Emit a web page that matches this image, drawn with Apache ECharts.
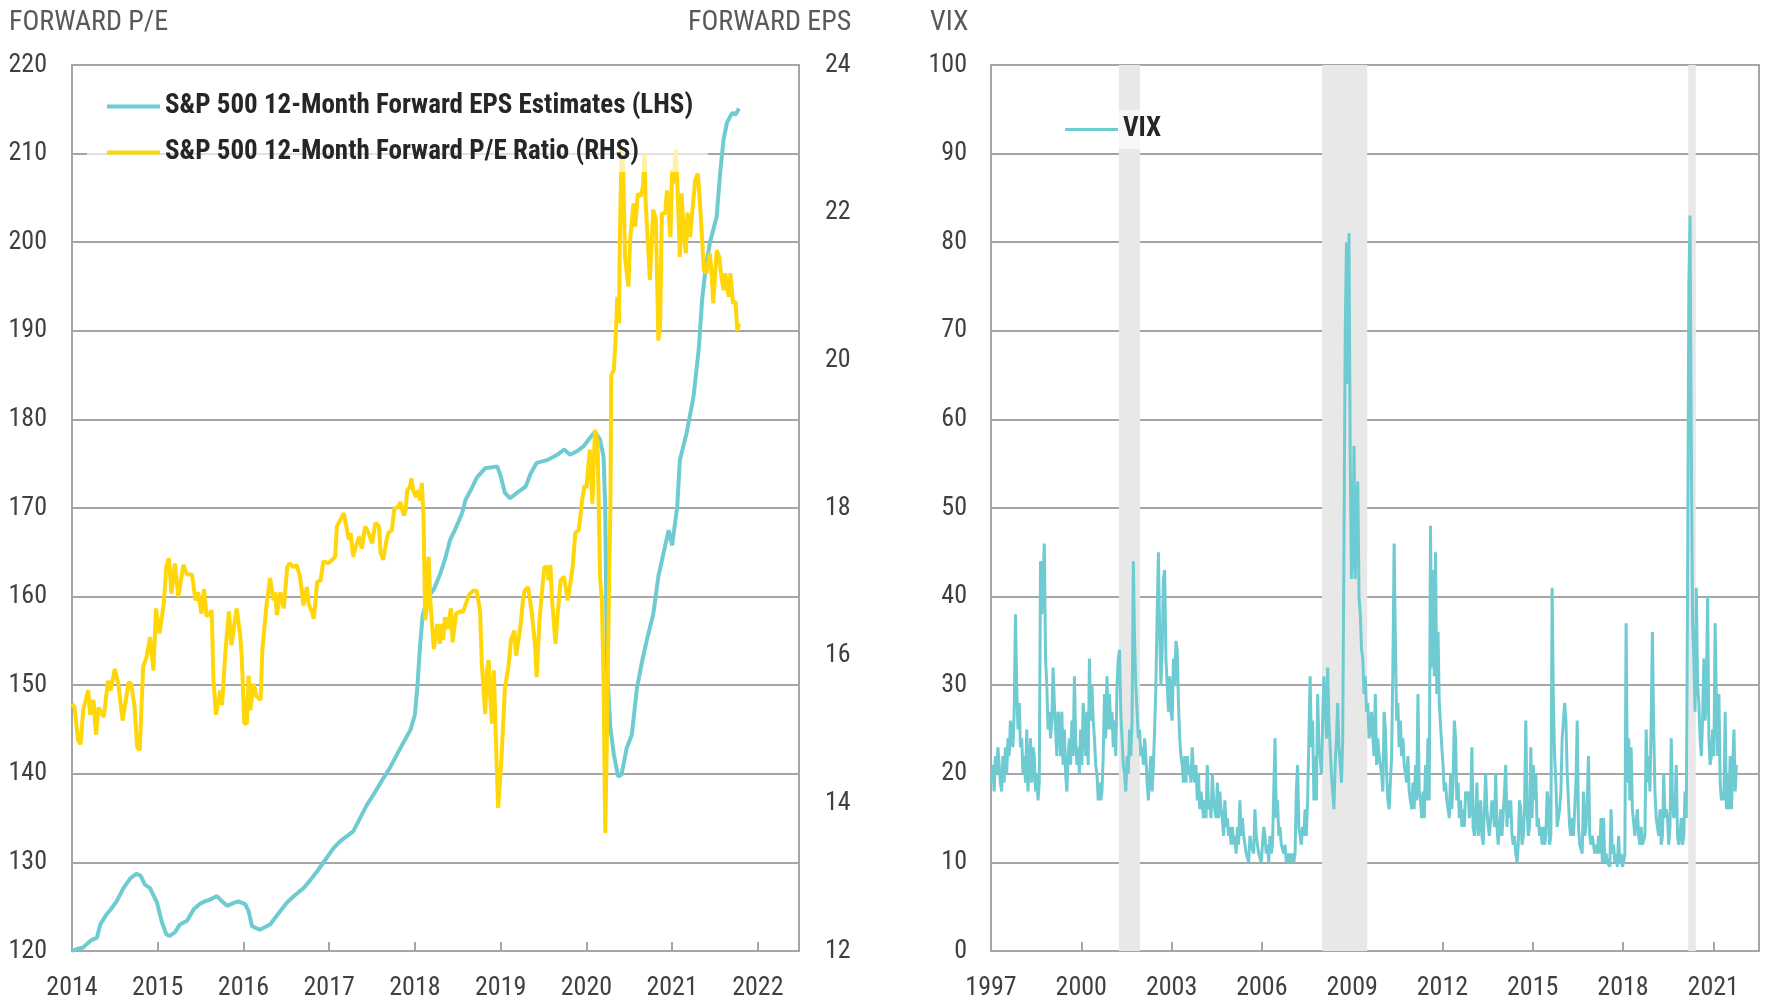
<!DOCTYPE html>
<html>
<head>
<meta charset="utf-8">
<title>Forward EPS, Forward P/E and VIX</title>
<script src="https://cdn.jsdelivr.net/npm/echarts@6/dist/echarts.min.js"></script>
<style>
html, body { margin: 0; padding: 0; background: #fff; }
#main { width: 1766px; height: 1001px; }
</style>
</head>
<body>
<div id="main"></div>
<script>
// series names
var epsName = 'S&P 500 12-Month Forward EPS Estimates (LHS)';
var peName = 'S&P 500 12-Month Forward P/E Ratio (RHS)';

// forward EPS, [year, value] (left axis)
var epsData = [[2014.00,120],[2014.05,120.2],[2014.13,120.4],[2014.22,121.2],[2014.29,121.5],[2014.33,123],[2014.40,124.1],[2014.46,124.8],[2014.52,125.6],[2014.60,127.1],[2014.68,128.2],[2014.75,128.7],[2014.80,128.5],[2014.85,127.5],[2014.91,127.1],[2014.99,125.5],[2015.05,123.2],[2015.10,121.9],[2015.14,121.7],[2015.20,122.1],[2015.26,123],[2015.34,123.4],[2015.42,124.7],[2015.49,125.3],[2015.55,125.6],[2015.61,125.8],[2015.69,126.2],[2015.75,125.6],[2015.81,125.1],[2015.88,125.4],[2015.94,125.6],[2016.02,125.3],[2016.06,124.5],[2016.10,122.8],[2016.19,122.4],[2016.31,123],[2016.39,124],[2016.51,125.5],[2016.60,126.3],[2016.70,127.1],[2016.78,128],[2016.86,129],[2016.97,130.5],[2017.05,131.6],[2017.13,132.4],[2017.28,133.5],[2017.36,135],[2017.44,136.5],[2017.52,137.7],[2017.60,139],[2017.71,140.7],[2017.83,142.9],[2017.95,145],[2018.00,146.7],[2018.03,150],[2018.06,154.5],[2018.09,157.8],[2018.14,159.8],[2018.22,160.8],[2018.30,162.7],[2018.35,164.2],[2018.41,166.4],[2018.47,167.6],[2018.55,169.4],[2018.59,170.9],[2018.65,172],[2018.72,173.4],[2018.82,174.5],[2018.90,174.6],[2018.96,174.7],[2019.00,173.6],[2019.05,171.7],[2019.11,171.1],[2019.19,171.7],[2019.29,172.4],[2019.35,173.9],[2019.42,175.1],[2019.54,175.4],[2019.66,176],[2019.74,176.6],[2019.81,176],[2019.89,176.4],[2019.97,177],[2020.04,177.9],[2020.10,178.6],[2020.16,177.7],[2020.20,175.8],[2020.22,170.2],[2020.24,152],[2020.28,145.2],[2020.32,142.2],[2020.37,139.7],[2020.41,139.9],[2020.47,142.9],[2020.53,144.4],[2020.59,149.7],[2020.65,152.7],[2020.71,155.3],[2020.78,158],[2020.84,162.3],[2020.90,164.9],[2020.96,167.5],[2021.00,165.8],[2021.06,170.2],[2021.09,175.4],[2021.17,178.5],[2021.25,182.6],[2021.31,187.9],[2021.35,193.5],[2021.39,197],[2021.44,199.9],[2021.52,202.9],[2021.56,207.8],[2021.60,211.6],[2021.64,213.5],[2021.70,214.6],[2021.74,214.4],[2021.78,215.1]];

// forward P/E, [year, value] (right axis)
var peData = [[2014.00,15.35],[2014.03,15.3],[2014.07,14.86],[2014.10,14.8],[2014.13,15.26],[2014.19,15.53],[2014.21,15.2],[2014.25,15.4],[2014.28,14.93],[2014.31,15.3],[2014.37,15.17],[2014.42,15.66],[2014.45,15.53],[2014.50,15.82],[2014.54,15.62],[2014.59,15.12],[2014.66,15.64],[2014.69,15.62],[2014.73,15.3],[2014.76,14.76],[2014.79,14.72],[2014.83,15.85],[2014.87,15.98],[2014.91,16.25],[2014.95,15.8],[2014.98,16.64],[2015.02,16.3],[2015.07,16.7],[2015.10,17.2],[2015.13,17.32],[2015.16,16.84],[2015.20,17.25],[2015.24,16.8],[2015.30,17.23],[2015.34,17.1],[2015.40,17.1],[2015.44,16.75],[2015.47,16.86],[2015.51,16.57],[2015.54,16.9],[2015.57,16.53],[2015.63,16.61],[2015.65,15.67],[2015.68,15.2],[2015.73,15.53],[2015.75,15.33],[2015.79,16.07],[2015.83,16.6],[2015.86,16.14],[2015.92,16.64],[2015.96,16.3],[2015.98,15.98],[2016.01,15.08],[2016.04,15.08],[2016.06,15.73],[2016.08,15.26],[2016.12,15.62],[2016.15,15.45],[2016.20,15.4],[2016.22,16.07],[2016.27,16.7],[2016.31,17.05],[2016.35,16.75],[2016.37,16.86],[2016.39,16.55],[2016.43,16.86],[2016.47,16.64],[2016.51,17.2],[2016.54,17.25],[2016.58,17.2],[2016.62,17.23],[2016.66,17.07],[2016.70,16.68],[2016.74,16.93],[2016.76,16.7],[2016.80,16.59],[2016.82,16.5],[2016.86,17.0],[2016.90,17.02],[2016.93,17.27],[2016.96,17.27],[2016.99,17.25],[2017.01,17.27],[2017.07,17.34],[2017.09,17.75],[2017.13,17.84],[2017.17,17.93],[2017.23,17.57],[2017.25,17.66],[2017.28,17.34],[2017.31,17.48],[2017.35,17.61],[2017.38,17.45],[2017.42,17.75],[2017.46,17.66],[2017.50,17.52],[2017.54,17.8],[2017.58,17.75],[2017.60,17.39],[2017.63,17.3],[2017.67,17.57],[2017.69,17.66],[2017.73,17.7],[2017.76,17.99],[2017.81,18.02],[2017.83,18.08],[2017.87,17.9],[2017.89,17.96],[2017.91,18.24],[2017.94,18.28],[2017.96,18.4],[2017.98,18.24],[2018.01,18.15],[2018.04,18.24],[2018.06,18.1],[2018.08,18.34],[2018.10,17.9],[2018.12,16.48],[2018.14,16.66],[2018.16,17.34],[2018.18,16.75],[2018.22,16.09],[2018.26,16.43],[2018.29,16.16],[2018.31,16.43],[2018.33,16.21],[2018.35,16.52],[2018.38,16.36],[2018.42,16.64],[2018.44,16.18],[2018.48,16.57],[2018.53,16.6],[2018.56,16.59],[2018.62,16.79],[2018.64,16.84],[2018.68,16.88],[2018.72,16.88],[2018.76,16.61],[2018.78,15.89],[2018.82,15.21],[2018.84,15.8],[2018.86,15.94],[2018.88,15.4],[2018.90,15.08],[2018.92,15.8],[2018.94,15.03],[2018.97,13.94],[2018.99,14.26],[2019.01,14.62],[2019.05,15.57],[2019.09,15.84],[2019.12,16.21],[2019.16,16.34],[2019.18,16.0],[2019.23,16.39],[2019.26,16.75],[2019.28,16.88],[2019.32,16.93],[2019.36,16.61],[2019.40,16.16],[2019.42,15.71],[2019.45,16.43],[2019.48,16.84],[2019.51,17.2],[2019.54,17.2],[2019.56,17.02],[2019.58,17.23],[2019.60,16.75],[2019.64,16.16],[2019.66,16.5],[2019.70,17.02],[2019.74,17.07],[2019.78,16.75],[2019.80,16.88],[2019.84,17.2],[2019.87,17.66],[2019.91,17.7],[2019.93,17.88],[2019.95,18.11],[2019.98,18.31],[2020.00,18.27],[2020.04,18.79],[2020.07,18.06],[2020.10,19.06],[2020.13,18.9],[2020.16,17.05],[2020.18,16.75],[2020.20,15.71],[2020.22,13.6],[2020.24,14.94],[2020.26,16.61],[2020.28,18.0],[2020.29,19.8],[2020.32,19.87],[2020.34,20.27],[2020.36,20.86],[2020.38,20.5],[2020.39,21.63],[2020.41,22.85],[2020.43,22.6],[2020.45,21.4],[2020.49,21.0],[2020.51,21.63],[2020.55,22.13],[2020.57,21.81],[2020.60,22.26],[2020.63,22.22],[2020.66,22.35],[2020.68,22.8],[2020.69,22.17],[2020.72,21.54],[2020.74,21.09],[2020.78,22.04],[2020.81,21.9],[2020.84,20.27],[2020.86,20.45],[2020.88,21.99],[2020.92,21.99],[2020.94,22.3],[2020.98,21.67],[2021.00,22.58],[2021.02,22.4],[2021.04,22.85],[2021.06,22.44],[2021.09,21.4],[2021.11,22.26],[2021.14,21.63],[2021.16,21.45],[2021.18,22.0],[2021.21,21.67],[2021.24,22.08],[2021.27,22.44],[2021.30,22.53],[2021.32,22.22],[2021.35,21.63],[2021.37,21.22],[2021.40,21.18],[2021.44,21.45],[2021.46,21.2],[2021.48,20.77],[2021.52,21.49],[2021.55,21.4],[2021.57,21.18],[2021.60,20.95],[2021.62,21.18],[2021.66,20.86],[2021.68,21.18],[2021.71,20.77],[2021.74,20.8],[2021.76,20.4],[2021.78,20.5]];

// VIX, two readings per month (first / second half), one list per year
var vix1997 = [19,21,18,22,20,23,21,19,18,22,19,23,20,24,22,26,24,23,27,38,30,25,28,23];
var vix1998 = [24,20,22,19,25,18,21,24,19,23,22,18,20,17,19,44,38,42,46,33,30,25,27,24];
var vix1999 = [26,32,28,25,22,27,26,22,27,21,25,20,18,22,24,21,26,22,31,24,21,23,20,25];
var vix2000 = [21,28,25,22,27,21,33,26,30,26,24,21,20,17,19,17,18,22,29,24,31,25,29,25];
var vix2001 = [27,23,26,22,30,33,34,27,24,21,20,18,22,20,25,22,26,44,35,30,27,24,25,22];
var vix2002 = [23,21,24,22,19,17,20,22,18,21,25,30,38,45,36,30,34,42,43,33,30,27,31,27];
var vix2003 = [26,33,30,35,34,28,24,22,21,19,22,19,22,20,21,19,23,20,19,21,17,20,16,18];
var vix2004 = [18,15,17,15,21,16,17,15,20,17,16,15,19,15,18,16,15,13,17,14,15,13,14,12];
var vix2005 = [14,12,13,11,14,12,17,13,15,13,12,11,11,10,13,12,12,11,16,13,12,11,11,10];
var vix2006 = [12,14,13,11,12,10,13,11,12,18,24,15,17,13,14,12,12,11,12,10,11,10,11,10];
var vix2007 = [11,10,11,18,21,14,13,12,14,13,16,13,17,24,31,23,26,17,22,17,29,23,22,20];
var vix2008 = [26,31,28,24,32,26,23,20,18,16,21,24,28,23,21,19,24,46,70,80,64,81,55,42];
var vix2009 = [45,57,42,49,53,40,38,34,33,29,31,27,28,24,25,27,24,22,29,21,24,22,21,20];
var vix2010 = [18,27,25,20,17,16,16,22,32,46,35,26,28,23,26,22,24,21,20,19,22,18,18,16];
var vix2011 = [19,16,21,17,29,18,17,15,18,15,21,17,24,17,48,32,43,31,45,29,36,28,28,23];
var vix2012 = [21,18,19,17,16,15,20,16,19,26,24,17,19,15,17,14,16,14,18,17,18,15,16,23];
var vix2013 = [14,13,15,19,13,14,17,13,12,16,20,16,14,13,15,17,16,14,20,14,12,14,16,13];
var vix2014 = [13,18,21,14,17,15,17,13,12,13,11,10,12,17,16,12,13,16,26,16,13,14,23,15];
var vix2015 = [21,17,20,14,15,13,14,12,14,12,13,18,17,12,13,41,28,22,19,14,15,16,18,24];
var vix2016 = [24,28,26,20,17,14,13,15,13,16,19,26,14,12,12,11,18,13,14,17,22,13,12,13];
var vix2017 = [12,11,12,11,13,11,15,10,15,10,11,10,10,9.5,16,11,12,10,11,9.5,13,10,11,9.5];
var vix2018 = [10,11,37,19,24,17,23,16,16,13,13,16,13,12,14,12,12,13,25,19,22,18,26,36];
var vix2019 = [25,18,15,14,13,16,12,13,20,15,16,15,12,14,24,17,15,16,21,13,12,13,15,12];
var vix2020 = [13,18,15,40,75,83,57,37,33,27,41,30,28,24,22,26,33,26,29,40,24,21,22,25];
var vix2021 = [22,37,28,22,29,19,17,18,17,27,16,20,16,22,16,21,25,18,21];
var vixByYear = [vix1997, vix1998, vix1999, vix2000, vix2001, vix2002, vix2003, vix2004, vix2005,
    vix2006, vix2007, vix2008, vix2009, vix2010, vix2011, vix2012, vix2013, vix2014, vix2015,
    vix2016, vix2017, vix2018, vix2019, vix2020, vix2021];
var vixFirstYear = 1997;

// recession bands (years)
var recessionStart = [2001.25, 2008.0, 2020.17];
var recessionEnd = [2001.95, 2009.5, 2020.42];

window.onload = function(){
    var myChart = echarts.init(document.getElementById('main'));
    var FONT = '"Liberation Sans Narrow", "Roboto Condensed", "DejaVu Sans Condensed", sans-serif';
    var gridColor = '#a6a6a6';
    var labelColor = '#404040';
    var teal = '#6ecbd2';
    var yellow = '#ffd60a';

    // VIX points at the middle of each half month
    var vixData = [];
    for (var k = 0; k < vixByYear.length; k++) {
        var list = vixByYear[k];
        for (var i = 0; i < list.length; i++) {
            vixData.push([vixFirstYear + k + (i + 0.5) / 24, list[i]]);
        }
    }
    var recessionAreas = [];
    for (var r = 0; r < recessionStart.length; r++) {
        recessionAreas.push([{xAxis: recessionStart[r]}, {xAxis: recessionEnd[r]}]);
    }

    var yearLabel = function(v){ return Math.round(v); };
    var tickLabel = {fontFamily: FONT, fontSize: 26, color: labelColor};
    var titleStyle = {fontFamily: FONT, fontSize: 28, fontWeight: 'normal', color: '#595959'};
    var legendText = {fontFamily: FONT, fontSize: 27, fontWeight: 'bold', color: '#262626'};

    var option = {
        animation: false,
        backgroundColor: '#fff',
        textStyle: {fontFamily: FONT},
        title: [
            {text: 'FORWARD P/E', left: 9, top: 9, padding: 0, textStyle: titleStyle},
            {text: 'FORWARD EPS', left: 688, top: 9, padding: 0, textStyle: titleStyle},
            {text: 'VIX', left: 930, top: 9, padding: 0, textStyle: titleStyle}
        ],
        legend: [
            {
                data: [epsName, peName],
                orient: 'vertical',
                left: 87, top: 85,
                itemWidth: 53, itemHeight: 4, itemGap: 19,
                padding: [8, 15, 6, 20],
                icon: 'rect',
                selectedMode: false,
                backgroundColor: 'rgba(255,255,255,0.65)',
                textStyle: legendText
            },
            {
                data: ['VIX'],
                left: 1045, top: 110,
                itemWidth: 53, itemHeight: 3,
                padding: [6, 20, 6, 20],
                icon: 'rect',
                selectedMode: false,
                backgroundColor: 'rgba(255,255,255,0.65)',
                textStyle: legendText
            }
        ],
        grid: [
            {left: 72, top: 65, width: 727, height: 886, show: true, borderColor: gridColor, borderWidth: 2},
            {left: 991, top: 65, width: 768, height: 886, show: true, borderColor: gridColor, borderWidth: 2}
        ],
        xAxis: [
            {
                type: 'value', gridIndex: 0, min: 2014, max: 2022.48, interval: 1,
                axisLine: {show: true, lineStyle: {color: gridColor, width: 2}},
                axisTick: {show: true, inside: true, length: 9, lineStyle: {color: gridColor, width: 2}},
                axisLabel: Object.assign({margin: 24, showMaxLabel: false, formatter: yearLabel}, tickLabel),
                splitLine: {show: false}
            },
            {
                type: 'value', gridIndex: 1, min: 1997, max: 2022.52, interval: 3,
                axisLine: {show: true, lineStyle: {color: gridColor, width: 2}},
                axisTick: {show: true, inside: true, length: 9, lineStyle: {color: gridColor, width: 2}},
                axisLabel: Object.assign({margin: 24, showMaxLabel: false, formatter: yearLabel}, tickLabel),
                splitLine: {show: false}
            }
        ],
        yAxis: [
            {
                type: 'value', gridIndex: 0, min: 120, max: 220, interval: 10,
                axisLine: {show: false}, axisTick: {show: false},
                axisLabel: Object.assign({margin: 25}, tickLabel),
                splitLine: {lineStyle: {color: gridColor, width: 2}}
            },
            {
                type: 'value', gridIndex: 0, position: 'right', min: 12, max: 24, interval: 2,
                axisLine: {show: false}, axisTick: {show: false},
                axisLabel: Object.assign({margin: 26}, tickLabel),
                splitLine: {show: false}
            },
            {
                type: 'value', gridIndex: 1, min: 0, max: 100, interval: 10,
                axisLine: {show: false}, axisTick: {show: false},
                axisLabel: Object.assign({margin: 24}, tickLabel),
                splitLine: {lineStyle: {color: gridColor, width: 2}}
            }
        ],
        series: [
            {
                name: epsName, type: 'line', xAxisIndex: 0, yAxisIndex: 0,
                data: epsData, symbol: 'none',
                lineStyle: {color: teal, width: 4}, itemStyle: {color: teal}
            },
            {
                name: peName, type: 'line', xAxisIndex: 0, yAxisIndex: 1,
                data: peData, symbol: 'none',
                lineStyle: {color: yellow, width: 4}, itemStyle: {color: yellow}
            },
            {
                // recession shading, kept under the grid lines
                name: 'recession', type: 'line', xAxisIndex: 1, yAxisIndex: 2,
                data: [], z: -1, silent: true,
                markArea: {silent: true, itemStyle: {color: '#e8e8e8'}, data: recessionAreas}
            },
            {
                name: 'VIX', type: 'line', xAxisIndex: 1, yAxisIndex: 2,
                data: vixData, symbol: 'none',
                lineStyle: {color: teal, width: 3}, itemStyle: {color: teal}
            }
        ]
    };
    myChart.setOption(option);
};
</script>
</body>
</html>
